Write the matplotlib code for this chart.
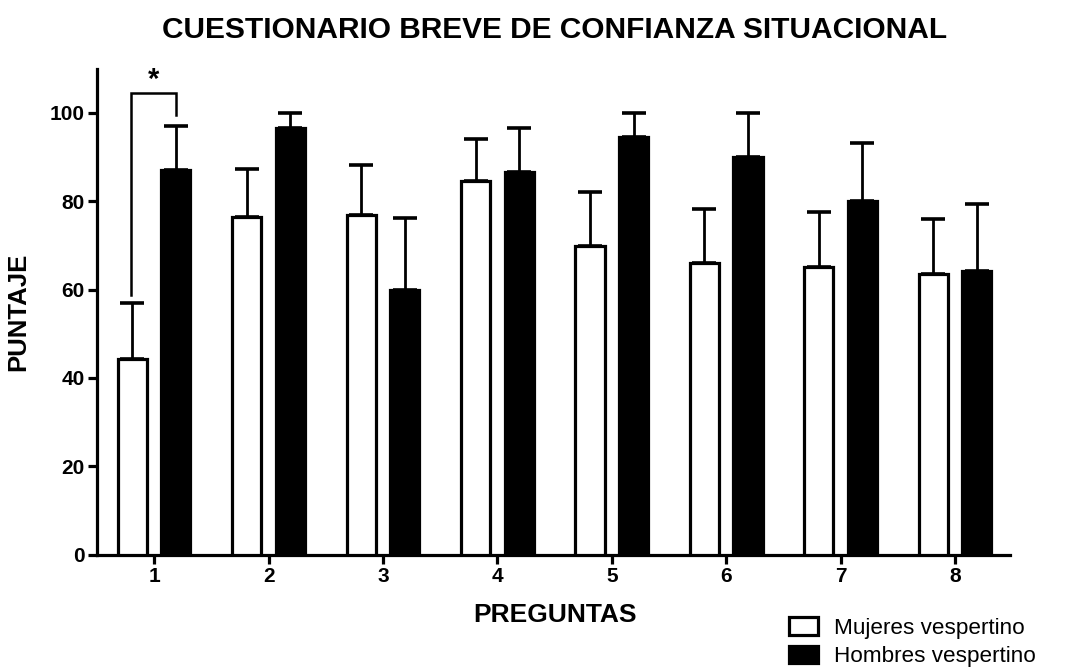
import numpy as np
import matplotlib
matplotlib.use("Agg")
import matplotlib.pyplot as plt

plt.rcParams['font.family'] = ['Liberation Sans', 'DejaVu Sans']

preguntas = ["1", "2", "3", "4", "5", "6", "7", "8"]
mujeres = [44.2, 76.4, 76.9, 84.6, 69.9, 66.0, 65.2, 63.5]
mujeres_err = [12.8, 10.9, 11.3, 9.5, 12.2, 12.3, 12.4, 12.5]
hombres = [87.1, 96.6, 59.9, 86.6, 94.6, 90.0, 80.1, 64.3]
hombres_err = [9.9, 3.4, 16.3, 10.0, 5.4, 10.0, 13.2, 15.1]
y_ticks = [0, 20, 40, 60, 80, 100]

# significance bracket between the two bars of question 1
bracket_low_left = 58.8
bracket_top = 104.5
bracket_low_right = 99.5
star_y = 107.5

fig = plt.figure(figsize=(10.75, 6.71), dpi=100)
ax = fig.add_axes([0.0902, 0.1736, 0.8493, 0.7239])

x = np.arange(1, len(preguntas) + 1)
offset = 0.19
width = 0.255
lw = 2.3

b1 = ax.bar(x - offset, mujeres, width, color="white", edgecolor="black",
            linewidth=lw, label="Mujeres vespertino", zorder=3)
b2 = ax.bar(x + offset, hombres, width, color="black", edgecolor="black",
            linewidth=lw, label="Hombres vespertino", zorder=3)

ax.errorbar(x - offset, mujeres, yerr=[np.zeros(len(x)), mujeres_err],
            fmt="none", ecolor="black", elinewidth=2.0, capsize=8.5,
            capthick=2.6, zorder=2)
ax.errorbar(x + offset, hombres, yerr=[np.zeros(len(x)), hombres_err],
            fmt="none", ecolor="black", elinewidth=2.0, capsize=8.5,
            capthick=2.6, zorder=2)

# bracket and star
xl, xr = x[0] - offset - 0.015, x[0] + offset
ax.plot([xl, xl, xr, xr], [bracket_low_left, bracket_top, bracket_top, bracket_low_right],
        color="black", linewidth=1.8, solid_joinstyle="miter", zorder=4)
ax.text((xl + xr) / 2, star_y, "*", ha="center", va="center",
        fontsize=21, fontweight="bold")

ax.set_xlim(0.5, 8.48)
ax.set_ylim(0, 110)
ax.set_xticks(x)
ax.set_xticklabels(preguntas)
ax.set_yticks(y_ticks)

for side in ("top", "right"):
    ax.spines[side].set_visible(False)
for side in ("left", "bottom"):
    ax.spines[side].set_linewidth(2.3)

ax.tick_params(axis="both", width=2.3, length=6.5, labelsize=15, pad=2.5)
for lab in ax.get_xticklabels() + ax.get_yticklabels():
    lab.set_fontweight("bold")

fig.text(555 / 1075, 1 - 615 / 671, "PREGUNTAS", ha="center", va="center",
         fontsize=19, fontweight="bold")
fig.text(18 / 1075, 1 - 312 / 671, "PUNTAJE", ha="center", va="center",
         rotation=90, fontsize=18.5, fontweight="bold")
fig.text(555 / 1075, 1 - 30 / 671, "CUESTIONARIO BREVE DE CONFIANZA SITUACIONAL",
         ha="center", va="center", fontsize=21.5, fontweight="bold")

fig.legend(handles=[b1, b2], loc="upper left",
           bbox_to_anchor=(789 / 1075, 1 - 617 / 671), frameon=False,
           fontsize=16.2, handlelength=1.3, handleheight=0.85,
           handletextpad=0.7, labelspacing=0.3, borderpad=0,
           borderaxespad=0)

fig.savefig("out.png", dpi=100, facecolor="white")
